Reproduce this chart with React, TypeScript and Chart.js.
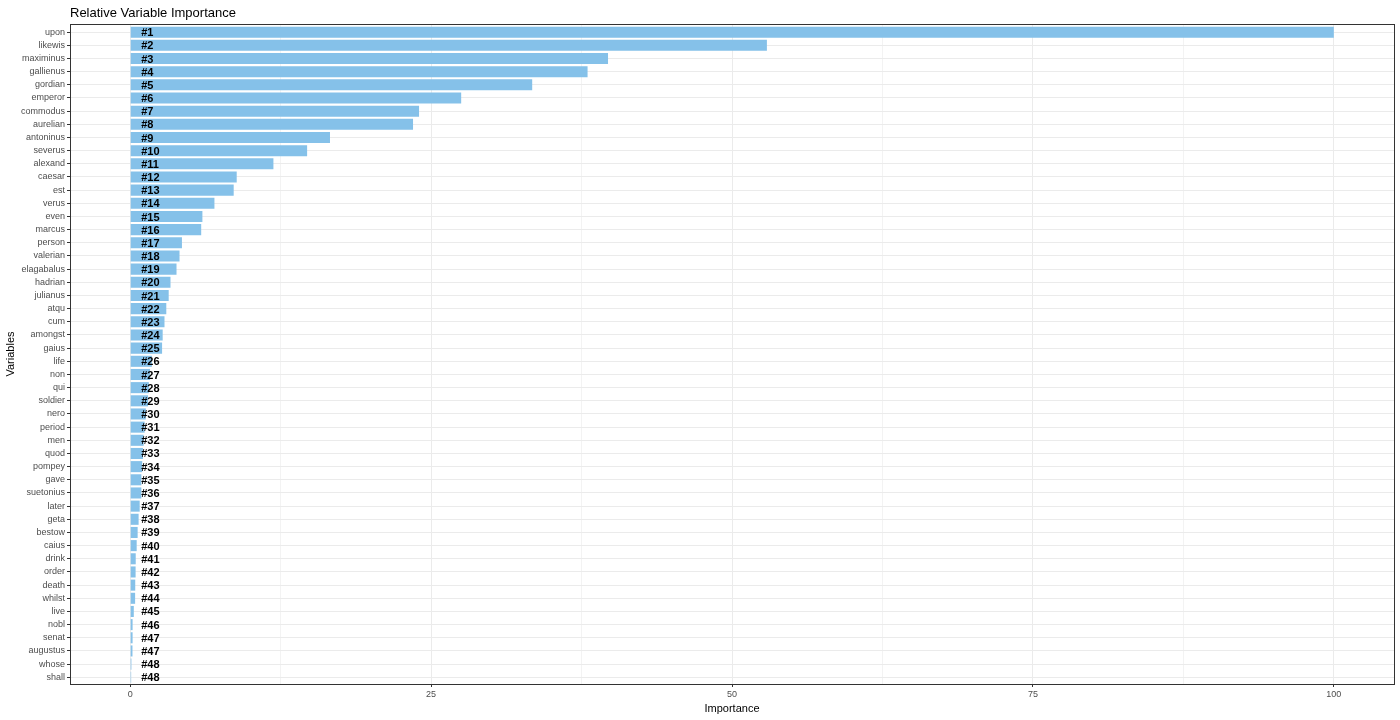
import React, { useEffect, useRef } from "react";
import { Chart, registerables } from "chart.js";

Chart.register(...registerables);

const variables = [
  "upon", "likewis", "maximinus", "gallienus", "gordian", "emperor", "commodus", "aurelian",
  "antoninus", "severus", "alexand", "caesar", "est", "verus", "even", "marcus", "person",
  "valerian", "elagabalus", "hadrian", "julianus", "atqu", "cum", "amongst", "gaius", "life",
  "non", "qui", "soldier", "nero", "period", "men", "quod", "pompey", "gave", "suetonius",
  "later", "geta", "bestow", "caius", "drink", "order", "death", "whilst", "live", "nobl",
  "senat", "augustus", "whose", "shall",
];

const importance = [
  100, 52.9, 39.7, 38.0, 33.4, 27.5, 24.0, 23.5,
  16.6, 14.7, 11.9, 8.85, 8.6, 7.0, 6.0, 5.9, 4.3,
  4.1, 3.85, 3.35, 3.2, 3.0, 2.85, 2.7, 2.65, 1.8,
  1.65, 1.55, 1.48, 1.3, 1.2, 1.12, 1.06, 1.0, 0.93, 0.93,
  0.79, 0.7, 0.62, 0.54, 0.46, 0.45, 0.42, 0.41, 0.3, 0.2,
  0.2, 0.19, 0.1, 0.08,
];

const ranks = [
  "#1", "#2", "#3", "#4", "#5", "#6", "#7", "#8", "#9", "#10", "#11", "#12", "#13", "#14",
  "#15", "#16", "#17", "#18", "#19", "#20", "#21", "#22", "#23", "#24", "#25", "#26", "#27",
  "#28", "#29", "#30", "#31", "#32", "#33", "#34", "#35", "#36", "#37", "#38", "#39", "#40",
  "#41", "#42", "#43", "#44", "#45", "#46", "#47", "#47", "#48", "#48",
];

const xTicks = [0, 12.5, 25, 37.5, 50, 62.5, 75, 87.5, 100];
const xTickLabels = ["0", "", "25", "", "50", "", "75", "", "100"];

const FONT = "'Liberation Sans', Arial, sans-serif";

export default function App() {
  const ref = useRef<HTMLCanvasElement | null>(null);

  useEffect(() => {
    document.body.style.margin = "0";
    const canvas = ref.current;
    if (!canvas) return;

    const overlay = {
      id: "overlay",
      afterDatasetsDraw(chart: any) {
        const ctx = chart.ctx;
        const xs = chart.scales.x;
        const meta = chart.getDatasetMeta(0);
        ctx.save();
        ctx.fillStyle = "#000000";
        ctx.font = `bold 11px ${FONT}`;
        ctx.textAlign = "left";
        ctx.textBaseline = "middle";
        const x0 = xs.getPixelForValue(0) + 11;
        meta.data.forEach((bar: any, i: number) => {
          ctx.fillText(ranks[i], x0, bar.y + 1);
        });
        ctx.restore();
      },
      afterDraw(chart: any) {
        const ctx = chart.ctx;
        const a = chart.chartArea;
        ctx.save();
        ctx.strokeStyle = "#333333";
        ctx.lineWidth = 1;
        ctx.strokeRect(Math.round(a.left) + 0.5, Math.round(a.top) + 0.5, Math.round(a.right - a.left), Math.round(a.bottom - a.top));
        ctx.fillStyle = "#000000";
        ctx.font = `13px ${FONT}`;
        ctx.textAlign = "left";
        ctx.textBaseline = "alphabetic";
        ctx.fillText("Relative Variable Importance", a.left, 17);
        ctx.restore();
      },
    };

    const chart = new Chart(canvas, {
      type: "bar",
      data: {
        labels: variables,
        datasets: [
          {
            data: importance,
            backgroundColor: "#85C1E9",
            borderWidth: 0,
            barPercentage: 0.84,
            categoryPercentage: 1,
          },
        ],
      },
      options: {
        indexAxis: "y",
        animation: false,
        responsive: false,
        maintainAspectRatio: false,
        layout: { padding: { left: 4, right: 6, top: 24, bottom: 0 } },
        plugins: {
          legend: { display: false },
          tooltip: { enabled: false },
          title: { display: false },
        },
        scales: {
          x: {
            type: "linear",
            min: -5,
            max: 105,
            afterBuildTicks: (scale: any) => {
              scale.ticks = xTicks.map((v) => ({ value: v }));
            },
            afterFit: (scale: any) => {
              scale.height = 36;
            },
            border: { display: false },
            grid: {
              color: "#ebebeb",
              lineWidth: (c: any) => (c.tick && xTicks.indexOf(c.tick.value) % 2 === 1 ? 0.6 : 1),
              tickColor: (c: any) => (c.tick && xTicks.indexOf(c.tick.value) % 2 === 1 ? "rgba(0,0,0,0)" : "#333333"),
              tickLength: 3,
              drawTicks: true,
            },
            ticks: {
              autoSkip: false,
              maxRotation: 0,
              padding: 2,
              color: "#4d4d4d",
              font: { family: FONT, size: 9 },
              callback: (_v: any, i: number) => xTickLabels[i],
            },
            title: {
              display: true,
              text: "Importance",
              color: "#000000",
              font: { family: FONT, size: 11 },
              padding: { top: 1, bottom: 4 },
            },
          },
          y: {
            type: "category",
            offset: true,
            afterFit: (scale: any) => {
              scale.width = 66;
            },
            afterUpdate: (scale: any) => {
              // ggplot-like discrete expansion
              const n = variables.length;
              scale._startValue = -0.62;
              scale._valueRange = n - 1 + 0.62 + 0.51;
            },
            border: { display: false },
            grid: {
              offset: false,
              color: "#ebebeb",
              lineWidth: 1,
              tickColor: "#333333",
              tickLength: 3,
            },
            ticks: {
              autoSkip: false,
              padding: 2,
              color: "#4d4d4d",
              font: { family: FONT, size: 9 },
            },
            title: {
              display: true,
              text: "Variables",
              color: "#000000",
              font: { family: FONT, size: 11 },
              padding: { top: 0, bottom: 0 },
            },
          },
        },
      },
      plugins: [overlay],
    });

    return () => chart.destroy();
  }, []);

  return (
    <div style={{ position: "absolute", left: 0, top: 0, width: 1400, height: 720, background: "#ffffff" }}>
      <canvas ref={ref} width={1400} height={720} style={{ width: 1400, height: 720, display: "block" }} />
    </div>
  );
}
